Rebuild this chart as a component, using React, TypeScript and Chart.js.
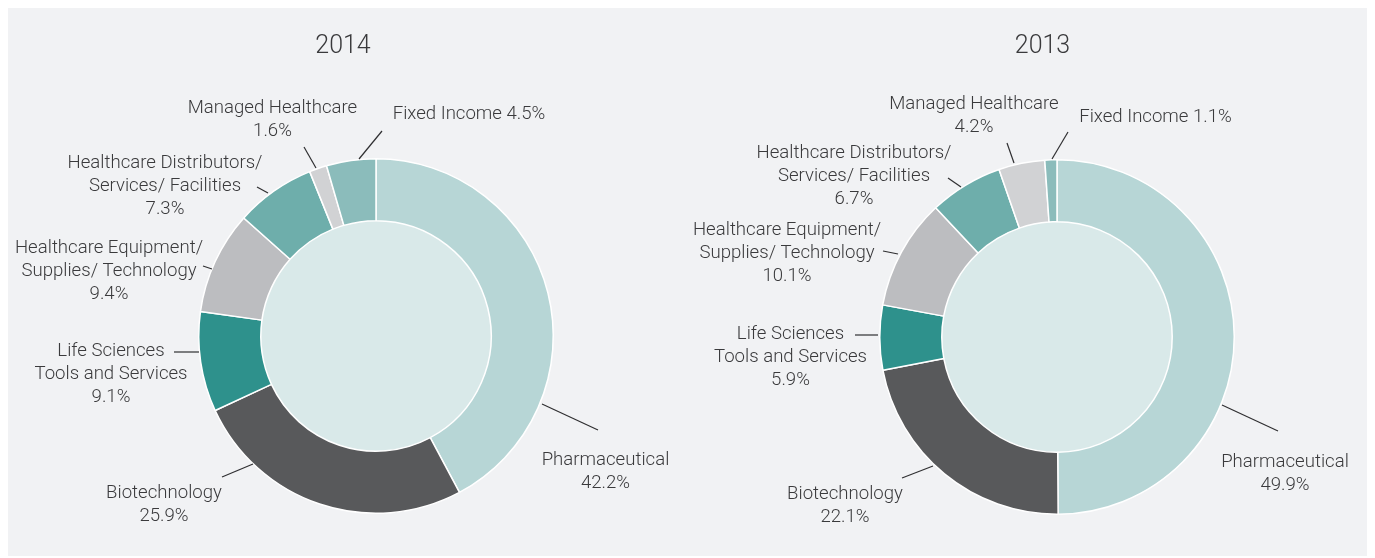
import { useEffect, useRef } from "react";
import { Chart, registerables } from "chart.js";

Chart.register(...registerables);

// ---- Data ----
const categories = [
  "Pharmaceutical",
  "Biotechnology",
  "Life Sciences Tools and Services",
  "Healthcare Equipment/ Supplies/ Technology",
  "Healthcare Distributors/ Services/ Facilities",
  "Managed Healthcare",
  "Fixed Income",
];
const labelLines = [
  ["Pharmaceutical"],
  ["Biotechnology"],
  ["Life Sciences", "Tools and Services"],
  ["Healthcare Equipment/", "Supplies/ Technology"],
  ["Healthcare Distributors/", "Services/ Facilities"],
  ["Managed Healthcare"],
  ["Fixed Income"],
];
const valueOnSameLine = [false, false, false, false, false, false, true];
const values2014 = [42.2, 25.9, 9.1, 9.4, 7.3, 1.6, 4.5];
const values2013 = [49.9, 22.1, 5.9, 10.1, 6.7, 4.2, 1.1];

// ---- Styles ----
const sliceColors = ["#b7d6d6", "#58595b", "#2e918c", "#bcbdc0", "#6eaeab", "#d1d2d4", "#8bbcbb"];
const centerColor = "#d9e9e9";
const panelColor = "#f1f2f4";
const textColor = "#3a3a3c";
const FONT = "Roboto, 'Liberation Sans', sans-serif";

// label layout: offsets from doughnut centre [textDx, textDy(first line)], leader line [x1,y1,x2,y2]
const layout2014 = {
  title: [-33, -289],
  text: [[229.5, 124], [-212, 157], [-265, 15], [-267, -88], [-211, -173], [-103.5, -228], [93, -222]],
  line: [
    [166, 68, 222, 94],
    [-123, 128, -154, 141],
    [-177, 16, -202, 16],
    [-164, -67, -173, -70],
    [-108, -143, -119, -149],
    [-60, -168, -72, -189],
    [-17, -177, 6, -205],
  ],
};
const layout2013 = {
  title: [-14.5, -290],
  text: [[228, 125], [-212, 157], [-266.5, -3], [-270, -107], [-203, -184], [-83, -233], [98.5, -220]],
  line: [
    [165, 68, 221, 94],
    [-124, 129, -155, 141],
    [-179, -2, -202, -2],
    [-159, -83, -174, -86],
    [-96, -150, -109, -159],
    [-43, -174, -50, -194],
    [-5, -178, 11, -205],
  ],
};

const donutPlugin = {
  id: "donutDecor",
  beforeDatasetsDraw(chart: any, _args: any, opts: any) {
    const arc = chart.getDatasetMeta(0).data[0];
    if (!arc) return;
    const { x, y, innerRadius } = arc;
    const ctx = chart.ctx;
    ctx.save();
    ctx.beginPath();
    ctx.arc(x, y, innerRadius, 0, Math.PI * 2);
    ctx.fillStyle = opts.centerColor;
    ctx.fill();
    ctx.restore();
  },
  afterDatasetsDraw(chart: any, _args: any, opts: any) {
    const arc = chart.getDatasetMeta(0).data[0];
    if (!arc) return;
    const cx = arc.x;
    const cy = arc.y;
    const ctx = chart.ctx;
    const lay = opts.layout;
    const values = chart.data.datasets[0].data as number[];
    ctx.save();
    // title
    ctx.fillStyle = textColor;
    ctx.textAlign = "center";
    ctx.textBaseline = "middle";
    ctx.font = `300 25px ${FONT}`;
    ctx.fillText(opts.title, cx + lay.title[0], cy + lay.title[1]);
    // leader lines
    ctx.strokeStyle = "#2f2f31";
    ctx.lineWidth = 1.2;
    lay.line.forEach((l: number[]) => {
      ctx.beginPath();
      ctx.moveTo(cx + l[0], cy + l[1]);
      ctx.lineTo(cx + l[2], cy + l[3]);
      ctx.stroke();
    });
    // labels
    ctx.font = `300 18.6px ${FONT}`;
    labelLines.forEach((lines, i) => {
      const pct = values[i].toFixed(1) + "%";
      const rows = valueOnSameLine[i]
        ? [...lines.slice(0, -1), lines[lines.length - 1] + " " + pct]
        : [...lines, pct];
      const [dx, dy] = lay.text[i];
      rows.forEach((r, k) => ctx.fillText(r, cx + dx, cy + dy + k * 23));
    });
    ctx.restore();
  },
};

function Donut({ values, title, layout, padding, width }: any) {
  const ref = useRef<HTMLCanvasElement | null>(null);
  useEffect(() => {
    if (!ref.current) return;
    const chart = new Chart(ref.current, {
      type: "doughnut",
      data: {
        labels: categories,
        datasets: [
          {
            data: values,
            backgroundColor: sliceColors,
            borderColor: "#ffffff",
            borderWidth: 1.5,
          },
        ],
      },
      options: {
        animation: false,
        responsive: false,
        cutout: "65%",
        rotation: 0,
        layout: { padding },
        plugins: {
          legend: { display: false },
          tooltip: { enabled: false },
          donutDecor: { title, layout, centerColor },
        } as any,
      },
      plugins: [donutPlugin],
    });
    return () => chart.destroy();
  }, []);
  return <canvas ref={ref} width={width} height={549} style={{ display: "block" }} />;
}

export default function App() {
  return (
    <div
      style={{
        marginTop: -1,
        width: 1362,
        height: 549,
        background: panelColor,
        display: "flex",
      }}
    >
      <Donut
        values={values2014}
        title="2014"
        layout={layout2014}
        width={680}
        padding={{ left: 190, right: 134, top: 151, bottom: 42 }}
      />
      <Donut
        values={values2013}
        title="2013"
        layout={layout2013}
        width={682}
        padding={{ left: 191, right: 135, top: 152, bottom: 41 }}
      />
    </div>
  );
}
